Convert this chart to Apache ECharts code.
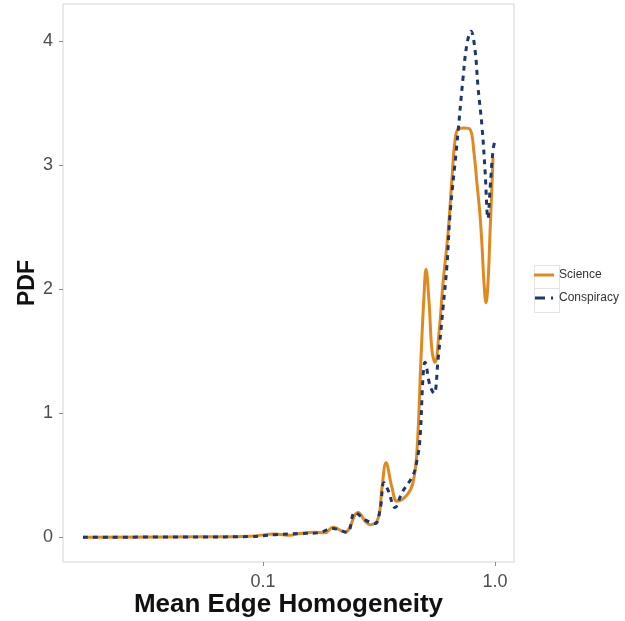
<!DOCTYPE html>
<html>
<head>
<meta charset="utf-8">
<script src="https://cdn.jsdelivr.net/npm/echarts@6/dist/echarts.min.js"></script>
<style>
html,body{margin:0;padding:0;background:#fff;}
#chart{width:625px;height:621px;}
</style>
</head>
<body>
<div id="chart"></div>
<script>
// Science density (x in real units on log axis)
const sciX = [0.01675, 0.0535, 0.0879, 0.1126, 0.1307, 0.1443, 0.1675, 0.185, 0.2003, 0.2256, 0.2567, 0.278, 0.2892, 0.3131, 0.3258, 0.339, 0.3597, 0.3781, 0.4175, 0.4431, 0.4611, 0.4798, 0.4943, 0.5041, 0.5195, 0.5352, 0.5514, 0.5737, 0.597, 0.6272, 0.6527, 0.6724, 0.6927, 0.735, 0.7801, 0.8118, 0.8364, 0.8615, 0.879, 0.8965, 0.9146, 0.9328, 0.9515, 0.9707, 0.9803];
const sciY = [0, 0.003, 0.008, 0.025, 0.015, 0.03, 0.04, 0.035, 0.08, 0.04, 0.2, 0.12, 0.1, 0.15, 0.4, 0.6, 0.4, 0.29, 0.34, 0.44, 0.7, 1.45, 1.95, 2.16, 1.9, 1.5, 1.41, 1.65, 2.05, 2.45, 2.9, 3.2, 3.29, 3.30, 3.29, 3.1, 2.85, 2.6, 2.35, 2.05, 1.89, 2.05, 2.45, 2.85, 3.06];
// Conspiracy density
const conX = [0.01675, 0.0535, 0.0879, 0.1126, 0.1443, 0.1726, 0.2003, 0.2302, 0.2492, 0.2752, 0.304, 0.3194, 0.3323, 0.3458, 0.3707, 0.3973, 0.4431, 0.4611, 0.4751, 0.4894, 0.4992, 0.5247, 0.546, 0.568, 0.597, 0.6211, 0.6398, 0.6859, 0.7278, 0.7572, 0.788, 0.8199, 0.8447, 0.879, 0.9055, 0.9328, 0.9515, 0.9803, 1.0];
const conY = [0, 0.002, 0.005, 0.02, 0.03, 0.035, 0.07, 0.04, 0.2, 0.14, 0.11, 0.22, 0.44, 0.38, 0.24, 0.36, 0.5, 0.62, 0.8, 1.29, 1.41, 1.22, 1.16, 1.43, 1.85, 2.2, 2.6, 3.18, 3.7, 3.98, 4.08, 3.93, 3.63, 3.31, 2.96, 2.57, 2.8, 3.12, 3.2];
const xTicks = [0.1, 1.0];
const xTickLabels = ['0.1', '1.0'];
const yTicks = [0, 1, 2, 3, 4];
const seriesNames = ['Science', 'Conspiracy'];

const FONT = "'Liberation Sans', Arial, Helvetica, sans-serif";
const zip = (xs, ys) => xs.map((x, i) => [x, ys[i]]);

const chart = echarts.init(document.getElementById('chart'));
chart.setOption({
  animation: false,
  backgroundColor: '#ffffff',
  textStyle: { fontFamily: FONT },
  grid: { left: 63, right: 111, top: 4, bottom: 59, outerBoundsMode: 'none', containLabel: false, show: true, borderColor: '#d4d4d4', borderWidth: 1, backgroundColor: '#ffffff' },
  xAxis: {
    type: 'log',
    logBase: 10,
    min: 0.01374,
    max: 1.2073,
    axisLine: { show: false, onZero: false },
    splitLine: { show: false },
    axisTick: { show: true, length: 4, lineStyle: { color: '#8c8c8c' }, customValues: xTicks },
    axisLabel: {
      customValues: xTicks,
      color: '#4d4d4d', fontSize: 18, margin: 11, fontFamily: FONT,
      formatter: v => { const i = xTicks.findIndex(t => Math.abs(t - v) < 1e-6); return i >= 0 ? xTickLabels[i] : ''; }
    },
    name: 'Mean Edge Homogeneity',
    nameLocation: 'middle',
    nameMoveOverlap: false,
    nameGap: 30,
    nameTextStyle: { fontSize: 26, fontWeight: 'bold', color: '#111', fontFamily: FONT }
  },
  yAxis: {
    type: 'value',
    min: -0.2,
    max: 4.3,
    axisLine: { show: false, onZero: false },
    splitLine: { show: false },
    axisTick: { show: true, length: 4, lineStyle: { color: '#8c8c8c' }, customValues: yTicks },
    axisLabel: { customValues: yTicks, color: '#4d4d4d', fontSize: 18, margin: 10, fontFamily: FONT },
    name: 'PDF',
    nameLocation: 'middle',
    nameMoveOverlap: false,
    nameRotate: 90,
    nameGap: 24,
    nameTextStyle: { fontSize: 23, fontWeight: 'bold', color: '#111', fontFamily: FONT }
  },
  legend: {
    orient: 'vertical',
    left: 529,
    top: 264,
    itemWidth: 20,
    itemHeight: 3,
    itemGap: 11,
    textStyle: { fontSize: 12, color: '#333', fontFamily: FONT },
    data: [
      { name: seriesNames[0], icon: 'rect' },
      { name: seriesNames[1], icon: 'path://M0,0 H10 V3 H0 Z M16,0 H18 V3 H16 Z' }
    ]
  },
  graphic: [
    { type: 'rect', left: 532, top: 263, shape: { width: 25, height: 23 }, style: { fill: 'none', stroke: '#e3e3e3', lineWidth: 1 }, z: -1 },
    { type: 'rect', left: 532, top: 286, shape: { width: 25, height: 24 }, style: { fill: 'none', stroke: '#e3e3e3', lineWidth: 1 }, z: -1 }
  ],
  series: [
    {
      name: seriesNames[0], type: 'line', data: zip(sciX, sciY), smooth: 0.4, symbol: 'none',
      lineStyle: { color: '#E0891F', width: 3 }, itemStyle: { color: '#E0891F' }, z: 2
    },
    {
      name: seriesNames[1], type: 'line', data: zip(conX, conY), smooth: 0.4, symbol: 'none',
      lineStyle: { color: '#1b3670', width: 3, type: [5, 5] }, itemStyle: { color: '#1b3670' }, z: 3
    }
  ]
});
</script>
</body>
</html>
